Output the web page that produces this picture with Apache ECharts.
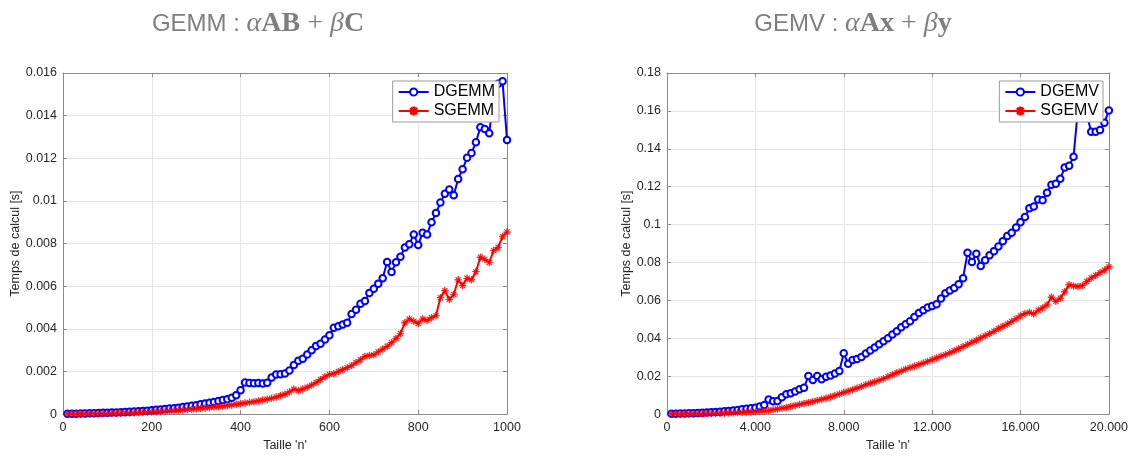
<!DOCTYPE html>
<html>
<head>
<meta charset="utf-8">
<title>GEMM / GEMV</title>
<script src="https://cdn.jsdelivr.net/npm/echarts@6/dist/echarts.min.js"></script>
<style>
  html, body { margin: 0; padding: 0; background: #fff; }
  #chart { width: 1131px; height: 457px; }
</style>
</head>
<body>
<div id="chart"></div>
<script>
// Matrix sizes n (GEMM) and vector sizes n (GEMV)
const gemmSizes = [
  10,20,30,40,50,60,70,80,90,100,110,120,130,140,150,160,170,180,190,200,
  210,220,230,240,250,260,270,280,290,300,310,320,330,340,350,360,370,380,390,400,
  410,420,430,440,450,460,470,480,490,500,510,520,530,540,550,560,570,580,590,600,
  610,620,630,640,650,660,670,680,690,700,710,720,730,740,750,760,770,780,790,800,
  810,820,830,840,850,860,870,880,890,900,910,920,930,940,950,960,970,980,990,1000
];
const gemvSizes = [
  200,400,600,800,1000,1200,1400,1600,1800,2000,2200,2400,2600,2800,3000,3200,3400,3600,3800,4000,
  4200,4400,4600,4800,5000,5200,5400,5600,5800,6000,6200,6400,6600,6800,7000,7200,7400,7600,7800,8000,
  8200,8400,8600,8800,9000,9200,9400,9600,9800,10000,10200,10400,10600,10800,11000,11200,11400,11600,11800,12000,
  12200,12400,12600,12800,13000,13200,13400,13600,13800,14000,14200,14400,14600,14800,15000,15200,15400,15600,15800,16000,
  16200,16400,16600,16800,17000,17200,17400,17600,17800,18000,18200,18400,18600,18800,19000,19200,19400,19600,19800,20000
];

// Compute times in seconds
const dgemmTimes = [
  0.00002,0.00002,0.00002,0.00003,0.00003,0.00004,0.00004,0.00005,0.00006,0.00006,
  0.00007,0.00008,0.00009,0.0001,0.00011,0.00012,0.00013,0.00015,0.00016,0.00018,
  0.0002,0.00022,0.00024,0.00026,0.00028,0.0003,0.00033,0.00036,0.00039,0.00042,
  0.00046,0.0005,0.00053,0.00057,0.00061,0.00066,0.0007,0.00077,0.00088,0.00112,
  0.00148,0.00146,0.00145,0.00146,0.00144,0.00147,0.00172,0.00186,0.00187,0.0019,
  0.00205,0.0023,0.0025,0.0026,0.0028,0.003,0.0032,0.0033,0.0035,0.0037,
  0.00405,0.00412,0.0042,0.00428,0.00469,0.0049,0.00518,0.0053,0.00568,0.00588,
  0.00612,0.00637,0.00713,0.00667,0.00712,0.00738,0.00782,0.00797,0.00843,0.00793,
  0.00851,0.00843,0.009,0.00943,0.00992,0.01034,0.01054,0.01027,0.01103,0.01149,
  0.01202,0.01225,0.01275,0.01345,0.01337,0.01317,0.0150,0.0155,0.01561,0.01286
];
const sgemmTimes = [
  0.00001,0.00001,0.00001,0.00001,0.00001,0.00002,0.00002,0.00002,0.00002,0.00003,
  0.00003,0.00004,0.00004,0.00005,0.00005,0.00006,0.00007,0.00008,0.00009,0.0001,
  0.00011,0.00012,0.00013,0.00015,0.00016,0.00018,0.00019,0.00021,0.00023,0.00025,
  0.00027,0.00029,0.00031,0.00033,0.00035,0.00037,0.0004,0.00043,0.00046,0.00049,
  0.00052,0.00055,0.00058,0.00062,0.00066,0.0007,0.00074,0.0008,0.00087,0.00093,
  0.00104,0.00117,0.0011,0.00118,0.00126,0.00136,0.00148,0.00162,0.00175,0.00186,
  0.00189,0.002,0.00208,0.00218,0.00228,0.00242,0.00255,0.0027,0.00275,0.00278,
  0.00292,0.00305,0.00318,0.00335,0.00355,0.00378,0.00428,0.00446,0.00436,0.00425,
  0.00446,0.0044,0.00452,0.00462,0.00546,0.00579,0.00538,0.00561,0.0063,0.00603,
  0.00637,0.0063,0.00668,0.00736,0.00726,0.00711,0.00767,0.00782,0.00833,0.00854
];
const dgemvTimes = [
  0.0002,0.0002,0.0003,0.0003,0.0004,0.0005,0.0006,0.0007,0.0008,0.001,
  0.0011,0.0013,0.0015,0.0017,0.0019,0.0022,0.0025,0.0028,0.0031,0.0034,
  0.004,0.0048,0.0077,0.0068,0.0069,0.0089,0.0105,0.011,0.0119,0.0131,
  0.0139,0.0201,0.018,0.0201,0.0184,0.0197,0.0204,0.0214,0.0227,0.0321,
  0.0266,0.0285,0.0291,0.0301,0.032,0.0336,0.0351,0.0368,0.0385,0.04,
  0.042,0.0437,0.0458,0.0474,0.049,0.0512,0.0533,0.0548,0.0562,0.057,
  0.058,0.061,0.0638,0.0652,0.0665,0.0685,0.0717,0.0851,0.0803,0.0846,
  0.0782,0.0812,0.0838,0.086,0.0884,0.0912,0.094,0.0957,0.0985,0.1012,
  0.104,0.1086,0.1095,0.1133,0.1129,0.1168,0.121,0.1215,0.1242,0.1301,
  0.131,0.1358,0.161,0.166,0.158,0.149,0.149,0.1499,0.1538,0.1602
];
const sgemvTimes = [
  0.0001,0.0001,0.0001,0.0001,0.0001,0.0002,0.0002,0.0002,0.0003,0.0003,
  0.0004,0.0004,0.0005,0.0006,0.0007,0.0008,0.0009,0.001,0.0011,0.0012,
  0.0014,0.0017,0.0019,0.0023,0.0027,0.0031,0.0035,0.004,0.0046,0.0051,
  0.0056,0.0061,0.0066,0.0072,0.0078,0.0084,0.0091,0.0098,0.0106,0.0114,
  0.0121,0.0129,0.0137,0.0145,0.0155,0.0163,0.017,0.0178,0.0187,0.0197,
  0.0208,0.0218,0.0227,0.0237,0.0245,0.0253,0.0261,0.0269,0.0278,0.0287,
  0.0296,0.0305,0.0314,0.0323,0.0334,0.0345,0.0356,0.0367,0.0379,0.039,
  0.0402,0.0413,0.0425,0.0437,0.0452,0.0463,0.0475,0.0489,0.0503,0.0519,
  0.053,0.0537,0.0529,0.0548,0.056,0.0576,0.0617,0.0595,0.0612,0.0645,
  0.0682,0.0676,0.0673,0.0678,0.07,0.0718,0.0732,0.0746,0.076,0.0777
];

const FONT = 'Liberation Sans, Helvetica, Arial, sans-serif';
const AXIS_GREY = '#8a8a8a';
const LABEL_COL = '#262626';
const GRID_COL = '#e6e6e6';

// asterisk marker: vertical, horizontal and two diagonal bars
const ASTERISK = 'path://M-1,-10h2v20h-2z M-10,-1h20v2h-20z ' +
  'M-7.7,-6.3L6.3,7.7L7.7,6.3L-6.3,-7.7z M-7.7,6.3L6.3,-7.7L7.7,-6.3L-6.3,7.7z';

const pairs = (xs, ys) => xs.map((x, i) => [x, ys[i]]);
const yFmt = v => String(+v.toFixed(4));
const thousands = v => String(v).replace(/\B(?=(\d{3})+(?!\d))/g, '.');

function mainX(grid, max, interval, fmt) {
  return {
    type: 'value', gridIndex: grid, min: 0, max: max, interval: interval,
    name: "Taille 'n'", nameLocation: 'middle', nameGap: 22,
    nameTextStyle: { fontFamily: FONT, fontSize: 12.5, color: LABEL_COL },
    axisLine: { show: true, onZero: false, lineStyle: { color: AXIS_GREY, width: 1 } },
    axisTick: { show: true, inside: true, length: 4, lineStyle: { color: AXIS_GREY } },
    axisLabel: { fontFamily: FONT, fontSize: 12.5, color: LABEL_COL, margin: 7, formatter: fmt },
    splitLine: { show: true, lineStyle: { color: GRID_COL, width: 1 } }
  };
}
function topX(grid, max, interval) {
  return {
    type: 'value', gridIndex: grid, position: 'top', min: 0, max: max, interval: interval,
    axisLine: { show: true, onZero: false, lineStyle: { color: AXIS_GREY, width: 1 } },
    axisTick: { show: true, inside: true, length: 4, lineStyle: { color: AXIS_GREY } },
    axisLabel: { show: false }, splitLine: { show: false }
  };
}
function mainY(grid, max, interval, gap) {
  return {
    type: 'value', gridIndex: grid, min: 0, max: max, interval: interval,
    name: 'Temps de calcul [s]', nameLocation: 'middle', nameGap: gap, nameRotate: 90,
    nameTextStyle: { fontFamily: FONT, fontSize: 12.5, color: LABEL_COL },
    axisLine: { show: true, onZero: false, lineStyle: { color: AXIS_GREY, width: 1 } },
    axisTick: { show: true, inside: true, length: 4, lineStyle: { color: AXIS_GREY } },
    axisLabel: { fontFamily: FONT, fontSize: 12.5, color: LABEL_COL, margin: 6, formatter: yFmt },
    splitLine: { show: true, lineStyle: { color: GRID_COL, width: 1 } }
  };
}
function rightY(grid, max, interval) {
  return {
    type: 'value', gridIndex: grid, position: 'right', min: 0, max: max, interval: interval,
    axisLine: { show: true, onZero: false, lineStyle: { color: AXIS_GREY, width: 1 } },
    axisTick: { show: true, inside: true, length: 4, lineStyle: { color: AXIS_GREY } },
    axisLabel: { show: false }, splitLine: { show: false }
  };
}
function curve(name, xi, yi, data, color, symbol, size, border) {
  return {
    type: 'line', name: name, xAxisIndex: xi, yAxisIndex: yi, data: data,
    symbol: symbol, symbolSize: size, showAllSymbol: true, animation: false,
    lineStyle: { color: color, width: 2 },
    itemStyle: { color: color, borderColor: color, borderWidth: border },
    emphasis: { disabled: true }
  };
}
function legendBox(names, right) {
  return {
    data: names, orient: 'vertical', right: right, top: 81,
    itemWidth: 30, itemHeight: 9, itemGap: 3, padding: [3, 4, 3, 5],
    backgroundColor: '#fff', borderColor: '#9a9a9a', borderWidth: 1,
    textStyle: { fontFamily: FONT, fontSize: 16, color: '#000' },
    selectedMode: false
  };
}
function titleText(x, label, m1, m2) {
  return {
    type: 'text', x: x, y: 24,
    style: {
      text: '{s|' + label + ' : }{i|α}{b|' + m1 + '}{o| + }{i|β}{b|' + m2 + '}',
      align: 'center', verticalAlign: 'middle',
      rich: {
        s: { fontFamily: FONT, fontSize: 24, fill: '#7f7f7f' },
        i: { fontFamily: 'Liberation Serif, serif', fontStyle: 'italic', fontSize: 28, fill: '#7f7f7f' },
        b: { fontFamily: 'Liberation Serif, serif', fontWeight: 'bold', fontSize: 28, fill: '#7f7f7f' },
        o: { fontFamily: 'Liberation Serif, serif', fontSize: 28, fill: '#7f7f7f' }
      }
    }
  };
}

const chart = echarts.init(document.getElementById('chart'), null, { renderer: 'canvas' });
chart.setOption({
  backgroundColor: '#fff',
  animation: false,
  graphic: [
    titleText(258, 'GEMM', 'AB', 'C'),
    titleText(853, 'GEMV', 'Ax', 'y')
  ],
  grid: [
    { left: 63, top: 73, width: 444, height: 349 },
    { left: 667, top: 73, width: 444, height: 349 }
  ],
  xAxis: [
    mainX(0, 1000, 200, v => String(v)),
    mainX(1, 20000, 4000, thousands),
    topX(0, 1000, 200),
    topX(1, 20000, 4000)
  ],
  yAxis: [
    mainY(0, 0.016, 0.002, 38),
    mainY(1, 0.18, 0.02, 27),
    rightY(0, 0.016, 0.002),
    rightY(1, 0.18, 0.02)
  ],
  legend: [
    legendBox(['DGEMM', 'SGEMM'], 632),
    legendBox(['DGEMV', 'SGEMV'], 28)
  ],
  series: [
    curve('DGEMM', 0, 0, pairs(gemmSizes, dgemmTimes), '#0000ff', 'emptyCircle', 6.5, 1.5),
    curve('SGEMM', 0, 0, pairs(gemmSizes, sgemmTimes), '#ff0000', ASTERISK, 7, 0.4),
    curve('DGEMV', 1, 1, pairs(gemvSizes, dgemvTimes), '#0000ff', 'emptyCircle', 6.5, 1.5),
    curve('SGEMV', 1, 1, pairs(gemvSizes, sgemvTimes), '#ff0000', ASTERISK, 7, 0.4)
  ]
});
</script>
</body>
</html>
